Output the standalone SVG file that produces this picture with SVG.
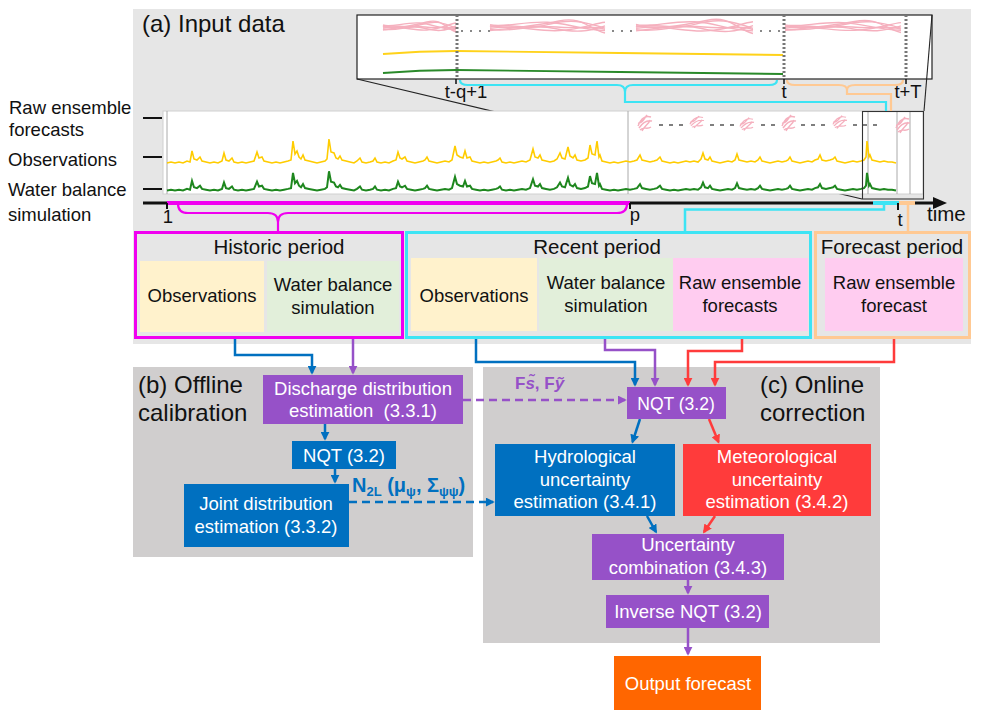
<svg xmlns="http://www.w3.org/2000/svg" width="981" height="718" viewBox="0 0 981 718">
<style>
text{font-family:"Liberation Sans",Arial,sans-serif;}
.k{fill:#111}
.s18{font-size:18.5px}
.s20{font-size:20.5px}
.s24{font-size:24px}
.m{text-anchor:middle}
.w{font-size:18.5px;fill:#fff;text-anchor:middle}
.ln{fill:none;stroke-width:2.5}
.bl{stroke:#0070C0}
.pu{stroke:#9651C8}
.rd{stroke:#FF3B3B}
.grid{stroke:#AAAAAA;stroke-width:1}
.ens path{fill:none;stroke:#F5B0BE;stroke-width:1.4}
.dot{stroke:#777;stroke-width:3;stroke-dasharray:2,2}
</style>
<defs>
<marker id="ab" viewBox="0 0 10 10" refX="8" refY="5" markerWidth="9" markerHeight="9" markerUnits="userSpaceOnUse" orient="auto"><path d="M0,0 L10,5 L0,10z" fill="#0070C0"/></marker>
<marker id="ap" viewBox="0 0 10 10" refX="8" refY="5" markerWidth="9" markerHeight="9" markerUnits="userSpaceOnUse" orient="auto"><path d="M0,0 L10,5 L0,10z" fill="#9651C8"/></marker>
<marker id="ar" viewBox="0 0 10 10" refX="8" refY="5" markerWidth="9" markerHeight="9" markerUnits="userSpaceOnUse" orient="auto"><path d="M0,0 L10,5 L0,10z" fill="#FF3B3B"/></marker>
<path id="sig" fill="none" vector-effect="non-scaling-stroke" d="M0,0 L4,-1 8,0 12,-1 16,0 20,-2 23,-1 25,-12 27,-4 30,-3 33,-6 35,-2 39,-1 43,0 47,-1 51,0 55,-2 57,-10 59,-3 62,-2 65,-5 67,-1 71,0 75,-1 79,0 83,-1 87,-2 90,-11 92,-5 95,-6 97,-2 101,-1 105,0 109,-1 113,0 117,-1 121,-2 124,-3 126,-22 128,-9 130,-12 132,-6 134,-4 136,-8 138,-3 142,-2 146,-1 150,0 154,-1 158,-2 160,-4 162,-24 164,-11 167,-10 169,-5 171,-4 173,-7 175,-3 179,-2 183,-1 187,0 190,-2 193,-5 195,-1 199,0 203,-1 206,-2 208,-5 210,-1 214,0 218,-1 222,0 226,-2 229,-3 231,-11 233,-5 235,-4 238,-6 240,-2 244,-1 248,0 252,-1 256,-2 258,-3 260,-6 262,-2 266,-1 270,0 274,-1 278,-2 282,-1 285,-3 288,-17 290,-8 293,-6 296,-5 298,-12 300,-5 303,-6 305,-2 309,-1 313,0 317,-1 321,0 325,-1 329,-2 331,-3 333,-5 335,-1 339,0 343,-1 347,0 351,-1 355,-2 359,-1 363,-3 366,-14 368,-6 371,-5 373,-8 375,-3 379,-2 383,-1 387,-2 390,-4 393,-10 395,-5 398,-4 401,-16 403,-7 406,-5 408,-8 410,-3 414,-2 418,-3 421,-5 423,-18 425,-9 428,-8 430,-22 432,-6 433,-8 435,-2 439,-1 443,0 447,-1 451,0 455,-1 459,-2 463,-1 467,-2 470,-3 473,-8 475,-3 479,-2 483,-1 487,-2 490,-3 493,-6 495,-2 499,-1 503,0 507,-1 511,0 515,-1 519,-2 523,-1 527,-2 531,-1 534,-4 536,-10 538,-4 541,-3 543,-6 545,-2 549,-1 553,0 557,-1 561,-2 565,-1 568,-3 570,-9 572,-3 576,-2 580,-1 584,-2 588,-1 591,-3 593,-6 595,-2 599,-1 603,0 607,-1 611,-2 615,-1 619,-2 621,-3 623,-6 625,-2 629,-1 633,0 637,-1 641,-2 645,-1 648,-3 651,-4 653,-8 655,-3 659,-2 663,-3 666,-4 668,-6 670,-2 674,-1 678,0 682,-1 686,-2 690,-1 694,-2 697,-3 699,-6 700,-22 702,-6 703,-8 705,-3 709,-2 713,-1 717,-2 721,-1 725,-1 729,0"/>
<g id="ens" class="ens">
<path vector-effect="non-scaling-stroke" d="M0,0 C15,-4 30,3 50,-2 S80,-5 100,1"/>
<path vector-effect="non-scaling-stroke" d="M0,2 C20,5 35,-3 55,1 S85,4 100,-1"/>
<path vector-effect="non-scaling-stroke" d="M0,-2 C10,1 30,-5 50,-4 S75,2 100,3"/>
<path vector-effect="non-scaling-stroke" d="M0,1 C25,-2 40,4 60,3 S90,-3 100,-4"/>
<path vector-effect="non-scaling-stroke" d="M0,3 C20,1 40,-1 60,-5 S85,1 100,5"/>
<path vector-effect="non-scaling-stroke" d="M0,-1 C18,2 36,-2 58,0 S88,-2 100,2"/>
</g>
<g id="blob" class="ens">
<path d="M-7,3 C-4,-5 0,-8 6,-6 M-6,5 C-2,-1 3,-3 7,-2 M-5,7 C-1,3 2,7 6,4 M-7,0 C-3,1 -1,-4 2,-8 M-3,8 C0,2 4,1 5,-3"/>
</g>
</defs>

<rect width="981" height="718" fill="#fff"/>

<g id="panel-a">
<rect x="133" y="9" width="838" height="335" fill="#E6E6E6"/>
<text x="142" y="32" class="s24 k">(a) Input data</text>
</g>
<g id="panel-b">
<rect x="133" y="367" width="340" height="190" fill="#D0CECE"/>
<text x="138" y="393" class="s24 k">(b) Offline</text>
<text x="138" y="421" class="s24 k">calibration</text>
</g>
<g id="panel-c">
<rect x="483" y="367" width="397" height="276" fill="#D0CECE"/>
<text x="760" y="393" class="s24 k">(c) Online</text>
<text x="760" y="421" class="s24 k">correction</text>
</g>

<g id="inset">
<rect x="357" y="15" width="575" height="64" fill="#fff" stroke="#222" stroke-width="1.2"/>
<use href="#ens" transform="translate(383,27) scale(0.73,1)"/>
<use href="#ens" transform="translate(490,27) scale(1.15,1.2)"/>
<use href="#ens" transform="translate(636,27) scale(1.17,1.3)"/>
<use href="#ens" transform="translate(785,27) scale(1.16,1.1)"/>
<path d="M461,31 H490 M612,31 H634 M760,31 H783" stroke="#888" stroke-width="2" stroke-dasharray="2,7"/>
<path d="M383,54 Q420,51 456,51 L620,53 L783,55" fill="none" stroke="#FFD21A" stroke-width="1.8"/>
<path d="M383,73 Q420,70 456,70 L620,72 L783,74" fill="none" stroke="#2A8A2A" stroke-width="1.8"/>
<path d="M457,15 V79 M784,15 V79 M906,15 V79" class="dot"/>
<path d="M456,79 V84 M784,79 V84 M906,79 V84" stroke="#111" stroke-width="1.5"/>
<text x="466" y="98" class="s18 k m">t-q+1</text>
<text x="784" y="98" class="s18 k m">t</text>
<text x="908" y="98" class="s18 k m">t+T</text>
</g>

<g id="callout" stroke="#222" stroke-width="1.1">
<line x1="357" y1="79" x2="862" y2="199"/>
<line x1="932" y1="15" x2="924" y2="111"/>
</g>

<g id="left-labels">
<text x="9" y="114" class="s18 k">Raw ensemble</text>
<text x="9" y="136" class="s18 k">forecasts</text>
<text x="8" y="166" class="s18 k">Observations</text>
<text x="8" y="196" class="s18 k">Water balance</text>
<text x="8" y="221" class="s18 k">simulation</text>
<path d="M143,118 H162 M143,157 H162 M143,189 H162" stroke="#111" stroke-width="2"/>
</g>

<g id="chart">
<rect x="163" y="111" width="760" height="83" fill="#fff" stroke="#D0D0D0" stroke-width="1"/>
<path d="M167,111 V194 M628,111 V194 M868,111 V194 M897,111 V194 M910,111 V194" class="grid"/>
<use href="#sig" transform="translate(167,163)" stroke="#FFCC00" stroke-width="1.6"/>
<use href="#sig" transform="translate(167,190.5) scale(1,0.8)" stroke="#1E871E" stroke-width="2"/>
<path d="M659,125 H688 M710,125 H736 M761,125 H780 M801,125 H830 M853,125 H882" stroke="#555" stroke-width="1.3" stroke-dasharray="4,6"/>
<use href="#blob" transform="translate(645,123)"/>
<use href="#blob" transform="translate(697,122) scale(1,0.75)"/>
<use href="#blob" transform="translate(747,124) scale(1,0.8)"/>
<use href="#blob" transform="translate(789,123)"/>
<use href="#blob" transform="translate(840,122) scale(1,0.8)"/>
<use href="#blob" transform="translate(903,125)"/>
<rect x="862.5" y="111.5" width="61" height="87.5" fill="none" stroke="#333" stroke-width="1.1"/>
</g>

<g id="axis">
<path d="M143,203 H935" stroke="#111" stroke-width="3"/>
<path d="M933,197 L947,203 L933,209z" fill="#111"/>
<path d="M167,203 H630" stroke="#F000F0" stroke-width="4"/>
<path d="M873,203 H899" stroke="#3DE4F4" stroke-width="4"/>
<path d="M899,203 H915" stroke="#FFC993" stroke-width="4"/>
<path d="M167,203 V209 M630,203 V209 M898,203 V210" stroke="#111" stroke-width="2"/>
<text x="168" y="223" class="s18 k m">1</text>
<text x="635" y="221" class="s18 k m">p</text>
<text x="900" y="226" class="s18 k m">t</text>
<text x="927" y="221" class="s20 k">time</text>
</g>

<g id="period-links" fill="none" stroke-width="2.2">
<path d="M178,204 Q178,213 188,213 H268 Q278,213 278,222 Q278,213 288,213 H617 Q627,213 627,204 M278,221 V231" stroke="#F000F0"/>
<path d="M884,203 V209.5 H685 V231" stroke="#3DE4F4" stroke-width="2.5"/>
<path d="M908,203 V231" stroke="#FFC993" stroke-width="2.5"/>
<path d="M460,80 Q460,85 468,85 H617 Q625,85 625,92 Q625,85 633,85 H769 Q777,85 777,80 M625,91 V102 H886 V111" stroke="#3DE4F4"/>
<path d="M787,80 Q787,85 795,85 H839 Q847,85 847,90 Q847,85 855,85 H895 Q903,85 903,80 M847,89 V94 H891 V111" stroke="#FFC993"/>
</g>

<g id="historic-period">
<rect x="135.5" y="232.5" width="267" height="105" fill="none" stroke="#F000F0" stroke-width="3"/>
<text x="279" y="254" class="s20 k m">Historic period</text>
<rect x="140" y="261" width="124" height="71" fill="#FFF2CC"/>
<text x="202" y="302" class="s18 k m">Observations</text>
<rect x="267" y="261" width="132" height="71" fill="#E2EFDA"/>
<text x="333" y="291" class="s18 k m">Water balance</text>
<text x="333" y="314" class="s18 k m">simulation</text>
</g>

<g id="recent-period">
<rect x="406.5" y="232.5" width="404" height="105" fill="none" stroke="#3DE4F4" stroke-width="3"/>
<text x="597" y="254" class="s20 k m">Recent period</text>
<rect x="411" y="258" width="126" height="73" fill="#FFF2CC"/>
<text x="474" y="302" class="s18 k m">Observations</text>
<rect x="539" y="258" width="134" height="73" fill="#E2EFDA"/>
<text x="606" y="289" class="s18 k m">Water balance</text>
<text x="606" y="312" class="s18 k m">simulation</text>
<rect x="673" y="258" width="135" height="73" fill="#FFCCF0"/>
<text x="740" y="289" class="s18 k m">Raw ensemble</text>
<text x="740" y="312" class="s18 k m">forecasts</text>
</g>

<g id="forecast-period">
<rect x="815.5" y="232.5" width="154" height="105" fill="none" stroke="#FFC993" stroke-width="3"/>
<text x="892" y="254" class="s20 k m">Forecast period</text>
<rect x="825" y="258" width="138" height="73" fill="#FFCCF0"/>
<text x="894" y="289" class="s18 k m">Raw ensemble</text>
<text x="894" y="312" class="s18 k m">forecast</text>
</g>

<g id="connectors">
<path d="M235,339 V355 H312 V373" class="ln bl" marker-end="url(#ab)"/>
<path d="M353,339 V373" class="ln pu" marker-end="url(#ap)"/>
<path d="M325,424 V439" class="ln bl" marker-end="url(#ab)"/>
<path d="M335,469 V482" class="ln bl" marker-end="url(#ab)"/>
<path d="M463,400 H625" class="ln pu" stroke-dasharray="8,5" marker-end="url(#ap)"/>
<path d="M349,502 H493" class="ln bl" stroke-dasharray="8,5" marker-end="url(#ab)"/>
<path d="M476,339 V362 H635 V385" class="ln bl" marker-end="url(#ab)"/>
<path d="M605,339 V350 H655 V385" class="ln pu" marker-end="url(#ap)"/>
<path d="M742,339 V351 H688 V385" class="ln rd" marker-end="url(#ar)"/>
<path d="M894,339 V362 H715 V385" class="ln rd" marker-end="url(#ar)"/>
<path d="M640,419 L632.5,442" class="ln bl" marker-end="url(#ab)"/>
<path d="M709,419 L718.5,442" class="ln rd" marker-end="url(#ar)"/>
<path d="M647,516 L656,532" class="ln bl" marker-end="url(#ab)"/>
<path d="M715,516 L704,532" class="ln rd" marker-end="url(#ar)"/>
<path d="M688,580 V593" class="ln pu" marker-end="url(#ap)"/>
<path d="M688,628 V654" class="ln pu" marker-end="url(#ap)"/>
<text x="515" y="389" font-family="DejaVu Serif,serif" font-weight="bold" font-size="17" fill="#9651C8">F<tspan font-style="italic">s̃</tspan>, F<tspan font-style="italic">ỹ</tspan></text>
<text x="352" y="492" font-family="Liberation Serif,serif" font-weight="bold" font-size="20" fill="#0070C0">N<tspan font-size="13" dy="4">2L</tspan><tspan dy="-4"> (μ</tspan><tspan font-size="13" dy="4">ψ</tspan><tspan dy="-4">, Σ</tspan><tspan font-size="13" dy="4">ψψ</tspan><tspan dy="-4">)</tspan></text>
</g>

<g id="discharge-distribution">
<rect x="263" y="375" width="200" height="49" fill="#9651C8"/>
<text x="363" y="395" class="w">Discharge distribution</text>
<text x="363" y="417" class="w" xml:space="preserve">estimation  (3.3.1)</text>
</g>
<g id="nqt-offline">
<rect x="292" y="441" width="104" height="28" fill="#0070C0"/>
<text x="344" y="462" class="w">NQT (3.2)</text>
</g>
<g id="joint-distribution">
<rect x="184" y="484" width="165" height="63" fill="#0070C0"/>
<text x="266" y="510" class="w">Joint distribution</text>
<text x="266" y="533" class="w">estimation (3.3.2)</text>
</g>
<g id="nqt-online">
<rect x="627" y="387" width="99" height="32" fill="#9651C8"/>
<text x="676" y="410" class="w" style="font-size:17.5px">NQT (3.2)</text>
</g>
<g id="hydrological">
<rect x="495" y="444" width="180" height="72" fill="#0070C0"/>
<text x="585" y="463" class="w">Hydrological</text>
<text x="585" y="486" class="w">uncertainty</text>
<text x="585" y="508" class="w">estimation (3.4.1)</text>
</g>
<g id="meteorological">
<rect x="683" y="444" width="188" height="72" fill="#FF3B3B"/>
<text x="777" y="463" class="w">Meteorological</text>
<text x="777" y="486" class="w">uncertainty</text>
<text x="777" y="508" class="w">estimation (3.4.2)</text>
</g>
<g id="uncertainty-combination">
<rect x="592" y="534" width="192" height="46" fill="#9651C8"/>
<text x="688" y="551" class="w">Uncertainty</text>
<text x="688" y="574" class="w">combination (3.4.3)</text>
</g>
<g id="inverse-nqt">
<rect x="606" y="595" width="163" height="33" fill="#9651C8"/>
<text x="688" y="618" class="w">Inverse NQT (3.2)</text>
</g>
<g id="output-forecast">
<rect x="614" y="656" width="147" height="54" fill="#FF6600"/>
<text x="688" y="690" class="w">Output forecast</text>
</g>
</svg>
